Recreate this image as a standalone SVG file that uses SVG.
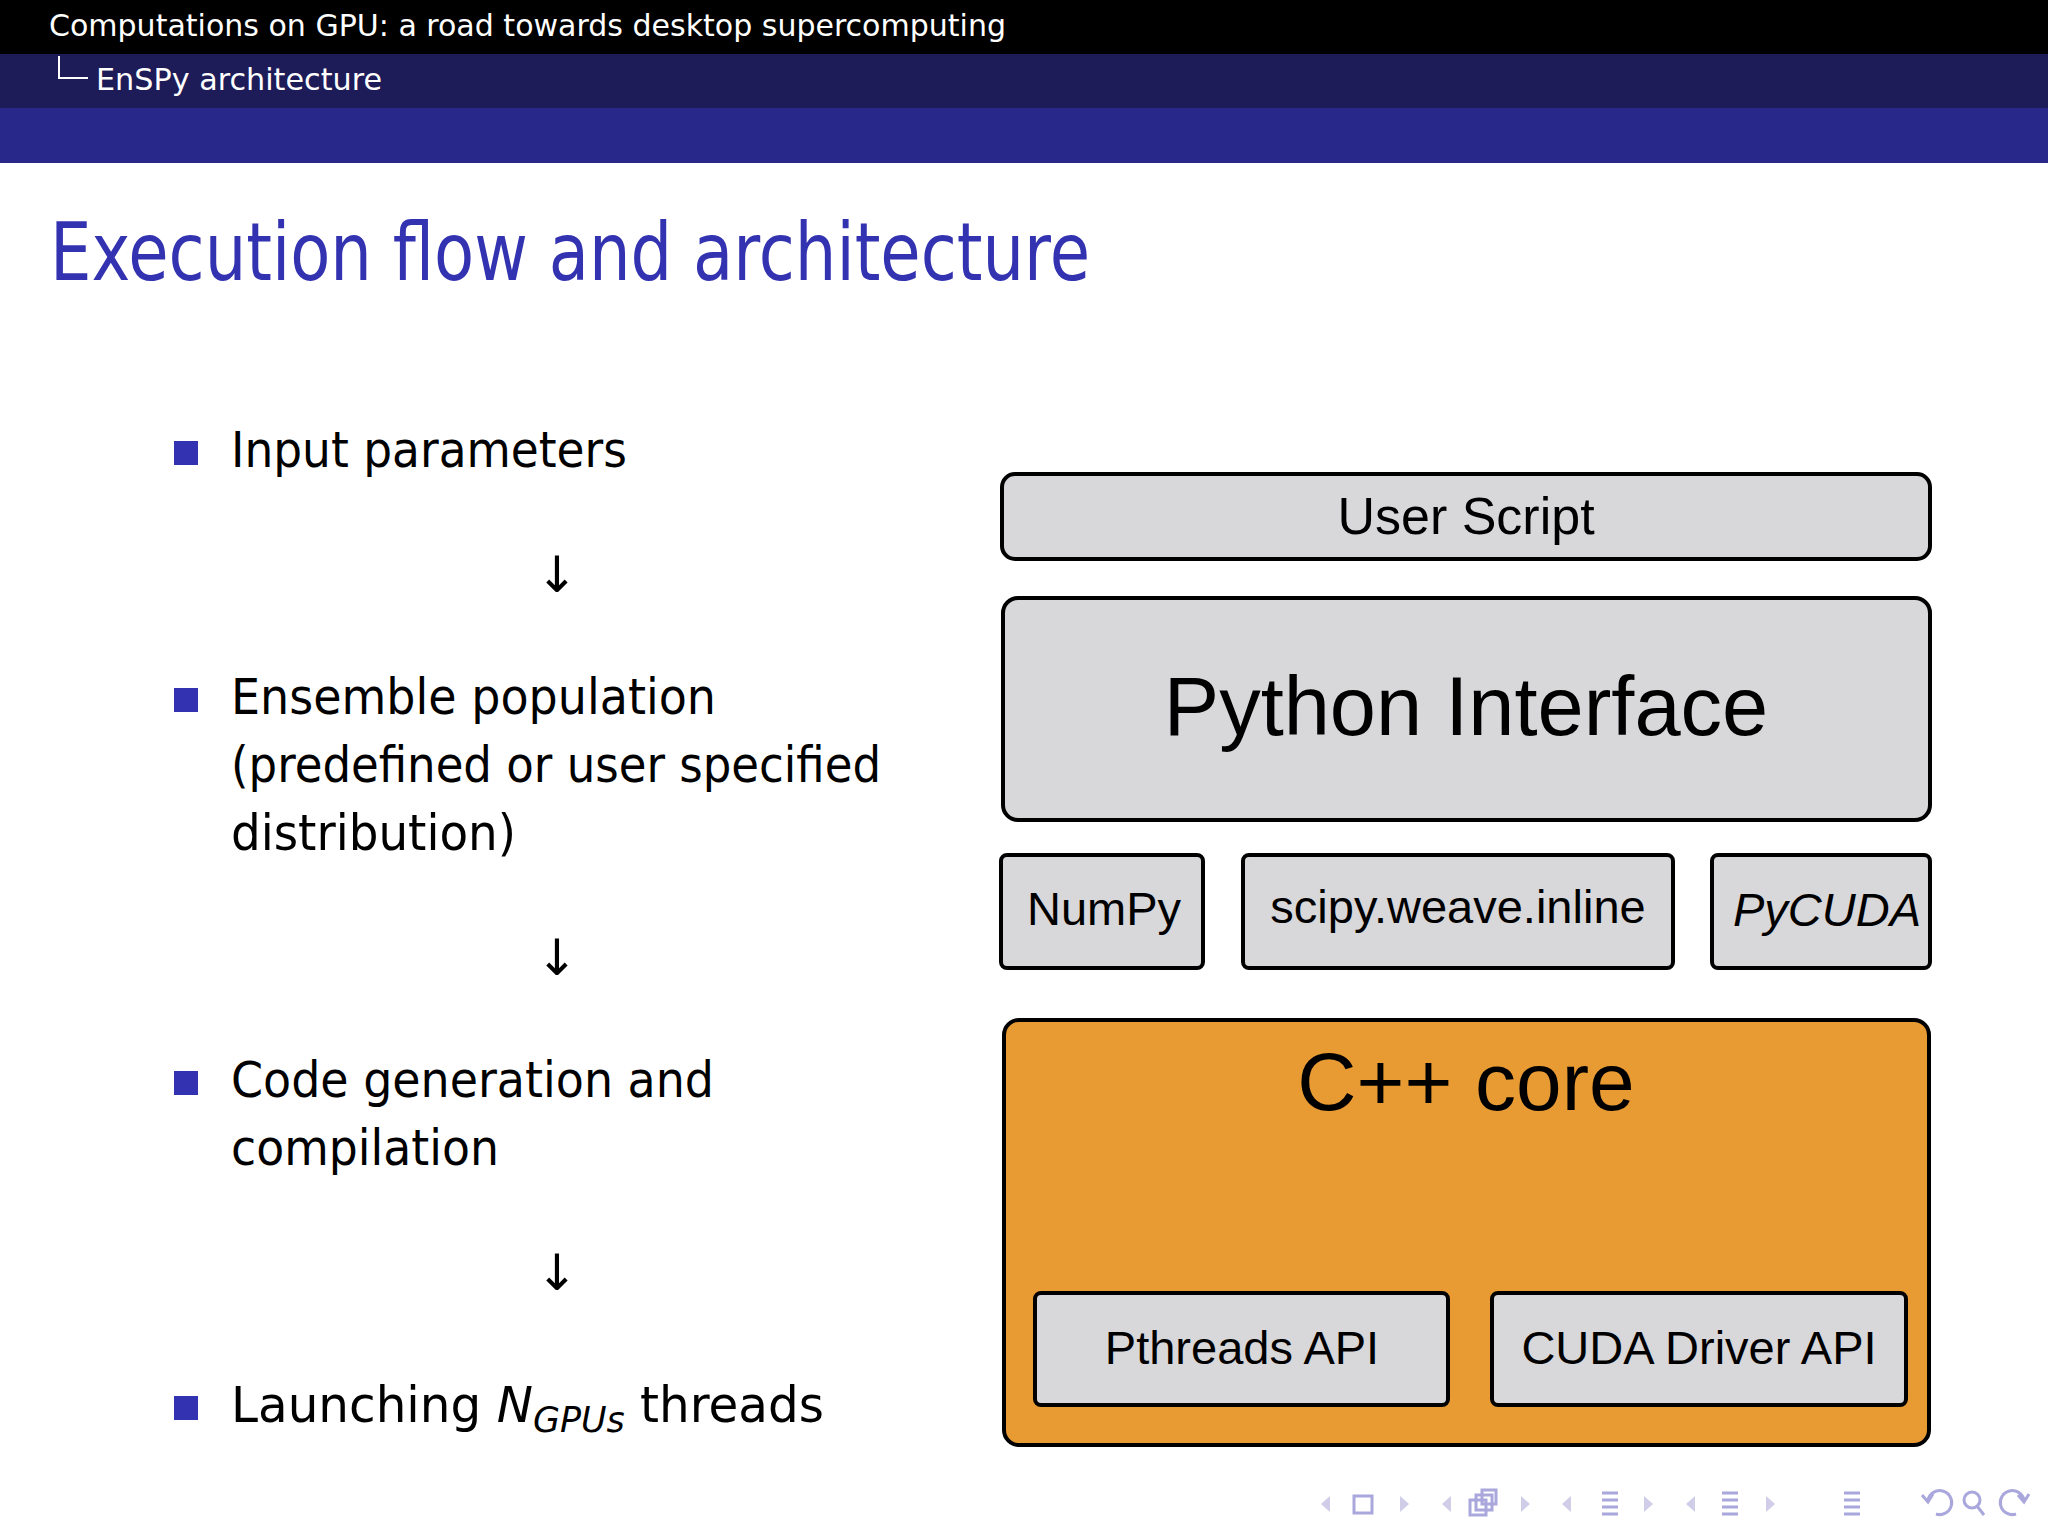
<svg xmlns="http://www.w3.org/2000/svg" width="2048" height="1536" viewBox="0 0 2048 1536">
<style>
.hd{font-family:"DejaVu Sans","Liberation Sans",sans-serif;fill:#fff;font-size:30px}
.bl{font-family:"DejaVu Sans","Liberation Sans",sans-serif;fill:#000;font-size:50px}
.bx{fill:#D8D7DA;stroke:#000;stroke-width:4}
.bt{font-family:"Liberation Sans",Arial,sans-serif;fill:#000;text-anchor:middle}
.nav{fill:#cfcde8;stroke:none}
.navs{fill:none;stroke:#aaa7dc;stroke-width:3}
</style>
<rect width="2048" height="1536" fill="#fff"/>
<rect x="0" y="0" width="2048" height="54" fill="#000"/>
<rect x="0" y="54" width="2048" height="54" fill="#1d1b58"/>
<rect x="0" y="108" width="2048" height="55" fill="#28288a"/>
<text class="hd" x="49" y="36" textLength="957" lengthAdjust="spacingAndGlyphs">Computations on GPU: a road towards desktop supercomputing</text>
<path d="M59 56 V78 H88" fill="none" stroke="#fff" stroke-width="2"/>
<text class="hd" x="96" y="90" textLength="286" lengthAdjust="spacingAndGlyphs">EnSPy architecture</text>
<text x="50" y="280" font-family="DejaVu Sans,Liberation Sans,sans-serif" font-size="80" fill="#3333b2" textLength="1040" lengthAdjust="spacingAndGlyphs">Execution flow and architecture</text>

<g id="bullets">
<rect x="174" y="441" width="24" height="24" fill="#3333b2"/>
<text class="bl" x="231" y="467" textLength="396" lengthAdjust="spacingAndGlyphs">Input parameters</text>
<text class="bl" x="557" y="592" text-anchor="middle">↓</text>
<rect x="174" y="688" width="24" height="24" fill="#3333b2"/>
<text class="bl" x="231" y="714" textLength="485" lengthAdjust="spacingAndGlyphs">Ensemble population</text>
<text class="bl" x="231" y="782" textLength="650" lengthAdjust="spacingAndGlyphs">(predefined or user specified</text>
<text class="bl" x="231" y="850" textLength="285" lengthAdjust="spacingAndGlyphs">distribution)</text>
<text class="bl" x="557" y="975" text-anchor="middle">↓</text>
<rect x="174" y="1071" width="24" height="24" fill="#3333b2"/>
<text class="bl" x="231" y="1097" textLength="483" lengthAdjust="spacingAndGlyphs">Code generation and</text>
<text class="bl" x="231" y="1165" textLength="268" lengthAdjust="spacingAndGlyphs">compilation</text>
<text class="bl" x="557" y="1290" text-anchor="middle">↓</text>
<rect x="174" y="1396" width="24" height="24" fill="#3333b2"/>
<text class="bl" x="231" y="1422" textLength="593" lengthAdjust="spacingAndGlyphs">Launching <tspan font-style="italic">N</tspan><tspan font-style="italic" font-size="36" dy="10">GPUs</tspan><tspan dy="-10"> threads</tspan></text>
</g>

<g id="user-script"><rect class="bx" x="1002" y="474" width="928" height="85" rx="13"/><text class="bt" x="1466" y="534" font-size="52">User Script</text></g>
<g id="python-interface"><rect class="bx" x="1003" y="598" width="927" height="222" rx="15"/><text class="bt" x="1466" y="735" font-size="83">Python Interface</text></g>
<g id="numpy"><rect class="bx" x="1001" y="855" width="202" height="113" rx="6"/><text class="bt" x="1104" y="925" font-size="47">NumPy</text></g>
<g id="scipy"><rect class="bx" x="1243" y="855" width="430" height="113" rx="6"/><text class="bt" x="1458" y="923" font-size="47">scipy.weave.inline</text></g>
<g id="pycuda"><rect class="bx" x="1712" y="855" width="218" height="113" rx="6"/><text class="bt" x="1827" y="926" font-size="47" font-style="italic">PyCUDA</text></g>
<g id="cpp-core"><rect x="1004" y="1020" width="925" height="425" rx="15" fill="#E89A33" stroke="#000" stroke-width="4"/><text class="bt" x="1466" y="1110" font-size="82">C++ core</text></g>
<g id="pthreads"><rect class="bx" x="1035" y="1293" width="413" height="112" rx="6"/><text class="bt" x="1242" y="1364" font-size="47">Pthreads API</text></g>
<g id="cuda-driver"><rect class="bx" x="1492" y="1293" width="414" height="112" rx="6"/><text class="bt" x="1699" y="1364" font-size="47">CUDA Driver API</text></g>
<g id="connectors"></g>

<g id="nav">
<path class="nav" d="M1330 1496 l-9 8 9 8z M1400 1496 l9 8 -9 8z M1451 1496 l-9 8 9 8z M1521 1496 l9 8 -9 8z M1571 1496 l-9 8 9 8z M1644 1496 l9 8 -9 8z M1695 1496 l-9 8 9 8z M1766 1496 l9 8 -9 8z"/>
<rect class="navs" x="1354" y="1496" width="18" height="17"/>
<rect class="navs" x="1470" y="1500" width="16" height="15"/><rect class="navs" x="1476" y="1495" width="16" height="15"/><rect class="navs" x="1482" y="1490" width="14" height="14"/>
<path class="navs" d="M1602 1493h16M1602 1500h16M1602 1507h16M1602 1514h16 M1722 1493h16M1722 1500h16M1722 1507h16M1722 1514h16 M1844 1493h16M1844 1500h16M1844 1507h16M1844 1514h16"/>
<path class="navs" d="M1928 1500 a12 12 0 1 1 8 14 M1922 1495 l6 7 5-8"/>
<circle class="navs" cx="1972" cy="1500" r="8"/><path class="navs" d="M1977 1506 l7 9"/>
<path class="navs" d="M2024 1500 a12 12 0 1 0 -8 14 M2018 1495 l6 7 5-8"/>
</g>
</svg>
